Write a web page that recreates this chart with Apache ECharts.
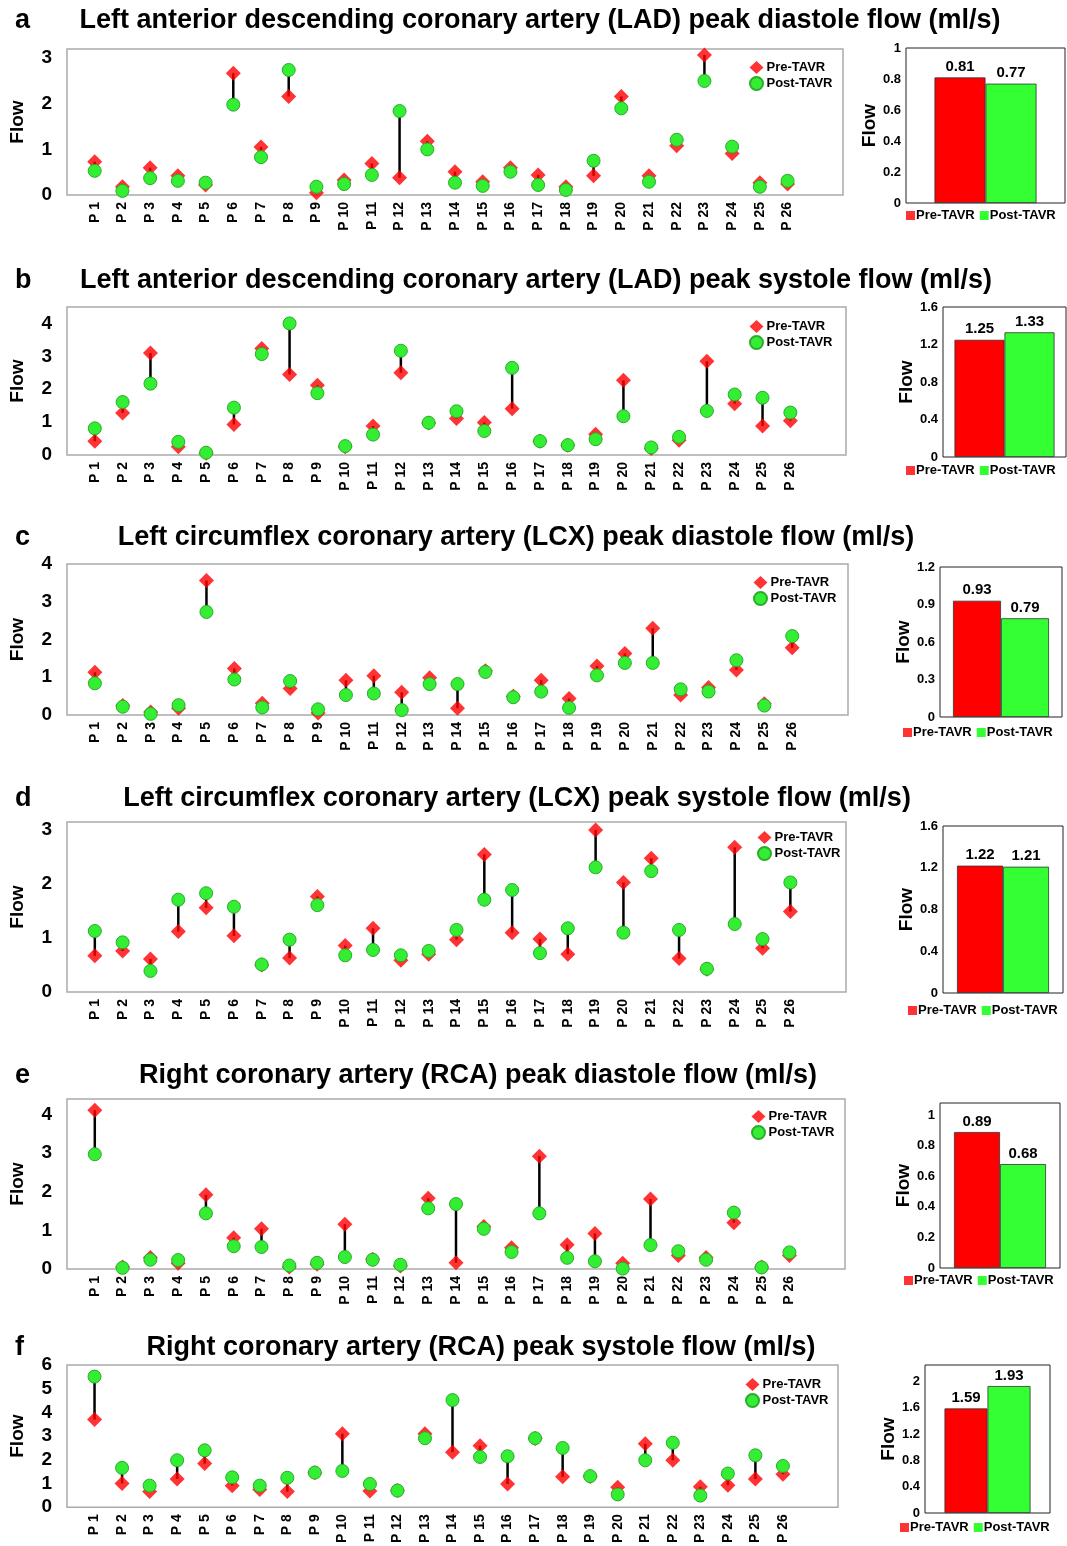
<!DOCTYPE html>
<html>
<head>
<meta charset="utf-8">
<script src="https://cdn.jsdelivr.net/npm/echarts@6/dist/echarts.min.js"></script>
<style>
html, body { margin: 0; padding: 0; background: #fff; }
#chart { width: 1067px; height: 1546px; }
</style>
</head>
<body>
<div id="chart"></div>
<script>
// patients on the x axis
var patients = ['P 1', 'P 2', 'P 3', 'P 4', 'P 5', 'P 6', 'P 7', 'P 8', 'P 9', 'P 10', 'P 11', 'P 12', 'P 13',
    'P 14', 'P 15', 'P 16', 'P 17', 'P 18', 'P 19', 'P 20', 'P 21', 'P 22', 'P 23', 'P 24', 'P 25', 'P 26'];

// a - LAD diastole
var ladDiaPre  = [0.73, 0.18, 0.60, 0.42, 0.22, 2.67, 1.05, 2.16, 0.05, 0.33, 0.69, 0.38, 1.18,
                  0.51, 0.29, 0.60, 0.44, 0.18, 0.42, 2.16, 0.42, 1.08, 3.07, 0.91, 0.27, 0.24];
var ladDiaPost = [0.53, 0.09, 0.37, 0.31, 0.27, 1.98, 0.83, 2.74, 0.18, 0.24, 0.44, 1.84, 1.00,
                  0.27, 0.20, 0.51, 0.22, 0.11, 0.75, 1.90, 0.29, 1.21, 2.50, 1.06, 0.18, 0.31];
var ladDiaMean = [0.81, 0.77];

// b - LAD systole
var ladSysPre  = [0.42, 1.28, 3.10, 0.25, 0.05, 0.93, 3.24, 2.45, 2.12, 0.25, 0.88, 2.50, 0.97,
                  1.11, 0.99, 1.41, 0.42, 0.30, 0.63, 2.27, 0.20, 0.45, 2.85, 1.56, 0.88, 1.04];
var ladSysPost = [0.81, 1.61, 2.17, 0.40, 0.07, 1.44, 3.07, 4.00, 1.88, 0.27, 0.62, 3.17, 0.98,
                  1.33, 0.73, 2.65, 0.42, 0.30, 0.48, 1.18, 0.23, 0.55, 1.34, 1.84, 1.74, 1.29];
var ladSysMean = [1.25, 1.33];

// c - LCX diastole
var lcxDiaPre  = [1.13, 0.25, 0.08, 0.18, 3.56, 1.23, 0.31, 0.70, 0.05, 0.92, 1.04, 0.60, 0.99,
                  0.18, 1.17, 0.50, 0.92, 0.44, 1.30, 1.63, 2.30, 0.53, 0.73, 1.19, 0.30, 1.78];
var lcxDiaPost = [0.84, 0.22, 0.03, 0.26, 2.73, 0.94, 0.20, 0.90, 0.15, 0.53, 0.57, 0.13, 0.82,
                  0.82, 1.14, 0.47, 0.62, 0.19, 1.05, 1.38, 1.38, 0.68, 0.62, 1.45, 0.25, 2.09];
var lcxDiaMean = [0.93, 0.79];

// d - LCX systole
var lcxSysPre  = [0.67, 0.76, 0.61, 1.12, 1.56, 1.04, 0.50, 0.63, 1.77, 0.86, 1.18, 0.59, 0.70,
                  0.97, 2.55, 1.10, 0.98, 0.70, 3.00, 2.03, 2.48, 0.62, 0.42, 2.68, 0.81, 1.49];
var lcxSysPost = [1.13, 0.92, 0.39, 1.71, 1.83, 1.58, 0.51, 0.97, 1.61, 0.68, 0.78, 0.68, 0.76,
                  1.15, 1.71, 1.89, 0.72, 1.18, 2.31, 1.10, 2.24, 1.15, 0.43, 1.26, 0.98, 2.03];
var lcxSysMean = [1.22, 1.21];

// e - RCA diastole
var rcaDiaPre  = [4.11, 0.05, 0.30, 0.15, 1.92, 0.81, 1.04, 0.05, 0.12, 1.16, 0.25, 0.08, 1.83,
                  0.16, 1.10, 0.55, 2.92, 0.63, 0.92, 0.15, 1.81, 0.35, 0.30, 1.20, 0.05, 0.35];
var rcaDiaPost = [2.97, 0.03, 0.24, 0.23, 1.44, 0.59, 0.57, 0.09, 0.16, 0.31, 0.24, 0.11, 1.57,
                  1.68, 1.04, 0.44, 1.44, 0.29, 0.20, 0.01, 0.62, 0.46, 0.24, 1.46, 0.04, 0.43];
var rcaDiaMean = [0.89, 0.68];

// f - RCA systole
var rcaSysPre  = [3.70, 1.00, 0.66, 1.19, 1.84, 0.91, 0.75, 0.66, 1.45, 3.10, 0.68, 0.70, 3.10,
                  2.32, 2.59, 0.98, 2.90, 1.28, 1.30, 0.84, 2.68, 1.98, 0.86, 0.93, 1.19, 1.39];
var rcaSysPost = [5.51, 1.66, 0.91, 1.98, 2.40, 1.26, 0.91, 1.24, 1.46, 1.53, 0.98, 0.70, 2.91,
                  4.52, 2.12, 2.15, 2.91, 2.50, 1.31, 0.54, 1.98, 2.72, 0.49, 1.42, 2.19, 1.74];
var rcaSysMean = [1.59, 1.93];

var panels = [
    {tag: 'a', title: 'Left anterior descending coronary artery (LAD) peak diastole flow (ml/s)', pre: ladDiaPre, post: ladDiaPost, mean: ladDiaMean},
    {tag: 'b', title: 'Left anterior descending coronary artery (LAD) peak systole flow (ml/s)', pre: ladSysPre, post: ladSysPost, mean: ladSysMean},
    {tag: 'c', title: 'Left circumflex coronary artery (LCX) peak diastole flow (ml/s)', pre: lcxDiaPre, post: lcxDiaPost, mean: lcxDiaMean},
    {tag: 'd', title: 'Left circumflex coronary artery (LCX) peak systole flow (ml/s)', pre: lcxSysPre, post: lcxSysPost, mean: lcxSysMean},
    {tag: 'e', title: 'Right coronary artery (RCA) peak diastole flow (ml/s)', pre: rcaDiaPre, post: rcaDiaPost, mean: rcaDiaMean},
    {tag: 'f', title: 'Right coronary artery (RCA) peak systole flow (ml/s)', pre: rcaSysPre, post: rcaSysPost, mean: rcaSysMean}
];

// layout of each panel (pixels) and axis ranges
var layout = [
    {ty: 18, tx: 535, g: [64, 49, 779, 146], yMax: 3.2, lg: [744, 56],
     b: [906, 48, 159, 155], bMax: 1, bStep: 0.2, bw: 51, bl: 209, bll: 906},
    {ty: 278, tx: 531, g: [63, 307, 783, 148], yMax: 4.5, lg: [744, 315],
     b: [943, 307, 123, 150], bMax: 1.6, bStep: 0.4, bw: 50, bl: 464, bll: 906},
    {ty: 535, tx: 511, g: [63, 564, 785, 151], yMax: 4, lg: [748, 571],
     b: [940, 567, 122, 150], bMax: 1.2, bStep: 0.3, bw: 48, bl: 726, bll: 903},
    {ty: 796, tx: 512, g: [63, 822, 783, 170], yMax: 3.15, lg: [752, 826],
     b: [943, 826, 120, 167], bMax: 1.6, bStep: 0.4, bw: 46, bl: 1004, bll: 908},
    {ty: 1073, tx: 473, g: [64, 1099, 781, 170], yMax: 4.4, lg: [746, 1105],
     b: [940, 1103, 120, 165], bMax: 1.08, bStep: 0.2, bw: 46, bl: 1274, bll: 904},
    {ty: 1345, tx: 476, g: [59, 1365, 779, 144], yMax: 6, lg: [740, 1373],
     b: [925, 1365, 125, 148], bMax: 2.25, bStep: 0.4, bw: 43, bl: 1521, bll: 900}
];

var FONT = '"Liberation Sans", Arial, sans-serif';
var RED = '#ff0000', GREEN = '#33ee33';

function stepLabel(step) {
    return function (v) {
        var k = v / step;
        return Math.abs(k - Math.round(k)) < 1e-6 ? String(+v.toFixed(2)) : '';
    };
}

function renderStem(params, api) {
    var p1 = api.coord([api.value(0), api.value(1)]);
    var p2 = api.coord([api.value(0), api.value(2)]);
    return {
        type: 'line',
        shape: {x1: p1[0], y1: p1[1], x2: p2[0], y2: p2[1]},
        style: {stroke: '#000', lineWidth: 2.5}
    };
}

var option = {
    animation: false,
    backgroundColor: '#fff',
    textStyle: {fontFamily: FONT},
    title: [], grid: [], xAxis: [], yAxis: [], legend: [], series: []
};

panels.forEach(function (p, i) {
    var L = layout[i];
    var gi = i * 2, bi = i * 2 + 1;

    option.title.push({
        text: p.tag, left: 10, top: L.ty - 16,
        textStyle: {fontSize: 27, fontWeight: 'bold', color: '#000', fontFamily: FONT}
    });
    option.title.push({
        text: p.title, left: L.tx, top: L.ty - 16, textAlign: 'center',
        textStyle: {fontSize: 27, fontWeight: 'bold', color: '#000', fontFamily: FONT}
    });

    // dumbbell grid
    option.grid.push({left: L.g[0], top: L.g[1], width: L.g[2], height: L.g[3],
        show: true, borderColor: '#aaa', borderWidth: 1.5, containLabel: false});
    option.xAxis.push({
        type: 'value', gridIndex: gi, min: 0, max: 28, interval: 1,
        axisLine: {show: false}, axisTick: {show: false}, splitLine: {show: false},
        axisLabel: {
            rotate: 90, margin: 7, fontSize: 14, fontWeight: 'bold', color: '#000',
            formatter: function (v) { return (v >= 1 && v <= patients.length) ? patients[v - 1] : ''; }
        }
    });
    option.yAxis.push({
        type: 'value', gridIndex: gi, min: 0, max: L.yMax, interval: 1,
        name: 'Flow', nameLocation: 'middle', nameGap: 40,
        nameTextStyle: {fontSize: 19, fontWeight: 'bold', color: '#000'},
        axisLine: {show: false}, axisTick: {show: false}, splitLine: {show: false},
        axisLabel: {fontSize: 19, fontWeight: 'bold', color: '#000', margin: 15, formatter: stepLabel(1)}
    });

    // bar grid
    option.grid.push({left: L.b[0], top: L.b[1], width: L.b[2], height: L.b[3],
        show: true, borderColor: '#222', borderWidth: 1, containLabel: false});
    option.xAxis.push({
        type: 'category', gridIndex: bi, data: [''],
        axisLine: {show: false}, axisTick: {show: false}, axisLabel: {show: false}
    });
    option.yAxis.push({
        type: 'value', gridIndex: bi, min: 0, max: L.bMax, interval: L.bStep,
        name: 'Flow', nameLocation: 'middle', nameGap: 27,
        nameTextStyle: {fontSize: 19, fontWeight: 'bold', color: '#000'},
        axisLine: {show: false}, axisTick: {show: false}, splitLine: {show: false},
        axisLabel: {fontSize: 13, fontWeight: 'bold', color: '#000', margin: 5, formatter: stepLabel(L.bStep)}
    });

    var stems = [], pre = [], post = [];
    patients.forEach(function (name, k) {
        stems.push([k + 1, p.pre[k], p.post[k]]);
        pre.push([k + 1, p.pre[k]]);
        post.push([k + 1, p.post[k]]);
    });

    option.series.push({
        type: 'custom', xAxisIndex: gi, yAxisIndex: gi, renderItem: renderStem,
        encode: {x: 0, y: [1, 2]}, data: stems, z: 2, silent: true
    });
    option.series.push({
        type: 'scatter', name: 'Pre-TAVR', xAxisIndex: gi, yAxisIndex: gi,
        symbol: 'diamond', symbolSize: 15, itemStyle: {color: RED}, data: pre, z: 3
    });
    option.series.push({
        type: 'scatter', name: 'Post-TAVR', xAxisIndex: gi, yAxisIndex: gi,
        symbol: 'circle', symbolSize: 13,
        itemStyle: {color: GREEN, borderColor: '#2caa2c', borderWidth: 1, opacity: 1},
        data: post, z: 4
    });

    var barLabel = {show: true, position: 'top', distance: 3, fontSize: 15, fontWeight: 'bold', color: '#000',
        formatter: function (d) { return d.value.toFixed(2); }};
    option.series.push({
        type: 'bar', name: 'Pre-TAVR', xAxisIndex: bi, yAxisIndex: bi, barWidth: L.bw, barGap: '0%',
        itemStyle: {color: RED, borderColor: '#333', borderWidth: 0.8}, label: barLabel, data: [p.mean[0]]
    });
    option.series.push({
        type: 'bar', name: 'Post-TAVR', xAxisIndex: bi, yAxisIndex: bi, barWidth: L.bw, barGap: '0%',
        itemStyle: {color: '#33ff33', borderColor: '#333', borderWidth: 0.8}, label: barLabel, data: [p.mean[1]]
    });

    option.legend.push({
        left: L.lg[0], top: L.lg[1], orient: 'vertical', itemGap: 2, itemWidth: 14, itemHeight: 13,
        selectedMode: false,
        textStyle: {fontSize: 13, fontWeight: 'bold', color: '#000', padding: [0, 0, 0, -2]},
        data: [{name: 'Pre-TAVR', icon: 'diamond'}, {name: 'Post-TAVR', icon: 'circle'}]
    });
    option.legend.push({
        left: L.bll, top: L.bl, width: 170, orient: 'horizontal', itemGap: 5, itemWidth: 9, itemHeight: 9,
        selectedMode: false, padding: 0,
        textStyle: {fontSize: 13, fontWeight: 'bold', color: '#000', padding: [0, 0, 0, -4]},
        data: [{name: 'Pre-TAVR', icon: 'rect', itemStyle: {color: RED, borderWidth: 0}},
               {name: 'Post-TAVR', icon: 'rect', itemStyle: {color: '#33ff33', borderWidth: 0}}]
    });
});

var chart = echarts.init(document.getElementById('chart'));
chart.setOption(option);
</script>
</body>
</html>
